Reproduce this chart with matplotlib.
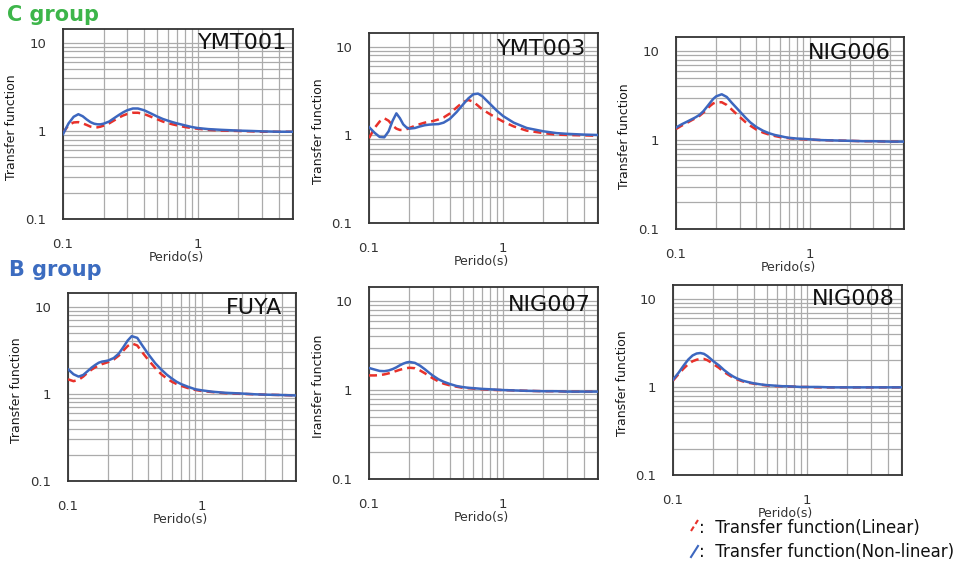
import matplotlib
matplotlib.use('Agg')
import matplotlib.pyplot as plt
from matplotlib.lines import Line2D
from matplotlib.ticker import FixedLocator, FixedFormatter, NullFormatter

W, H = 961, 565

# ---------------- data ----------------
period = [0.10, 0.11, 0.12, 0.13, 0.14, 0.15, 0.16, 0.17, 0.18, 0.19, 0.20, 0.22,
          0.24, 0.26, 0.28, 0.30, 0.33, 0.36, 0.40, 0.45, 0.50, 0.55, 0.60, 0.65,
          0.70, 0.80, 0.90, 1.0, 1.2, 1.5, 2.0, 2.5, 3.0, 4.0, 5.0]

ymt001_nonlin = [0.92, 1.22, 1.45, 1.55, 1.47, 1.35, 1.26, 1.21, 1.19, 1.19, 1.21, 1.28,
                 1.40, 1.52, 1.63, 1.72, 1.80, 1.80, 1.72, 1.58, 1.46, 1.37, 1.31, 1.26,
                 1.22, 1.16, 1.11, 1.08, 1.05, 1.03, 1.01, 1.00, 0.99, 0.98, 0.98]
ymt001_lin = [0.95, 1.17, 1.25, 1.26, 1.22, 1.17, 1.12, 1.10, 1.10, 1.12, 1.15, 1.22,
              1.32, 1.42, 1.50, 1.56, 1.61, 1.61, 1.56, 1.45, 1.36, 1.28, 1.23, 1.19,
              1.16, 1.11, 1.08, 1.06, 1.03, 1.01, 1.00, 0.99, 0.98, 0.98, 0.98]

ymt003_nonlin = [1.23, 1.06, 0.95, 0.94, 1.10, 1.45, 1.76, 1.55, 1.32, 1.22, 1.18, 1.20,
                 1.25, 1.29, 1.31, 1.32, 1.33, 1.38, 1.52, 1.82, 2.20, 2.60, 2.90, 2.95,
                 2.75, 2.25, 1.88, 1.64, 1.38, 1.20, 1.10, 1.05, 1.03, 1.01, 1.00]
ymt003_lin = [0.92, 1.20, 1.42, 1.55, 1.45, 1.28, 1.18, 1.14, 1.14, 1.16, 1.20, 1.27,
              1.33, 1.38, 1.41, 1.44, 1.50, 1.58, 1.75, 2.05, 2.35, 2.50, 2.38, 2.15,
              1.95, 1.72, 1.55, 1.42, 1.25, 1.12, 1.05, 1.01, 1.00, 0.99, 0.98]

nig006_nonlin = [1.38, 1.50, 1.60, 1.70, 1.80, 1.92, 2.10, 2.35, 2.62, 2.90, 3.10, 3.27,
                 3.05, 2.65, 2.35, 2.10, 1.80, 1.58, 1.40, 1.27, 1.19, 1.14, 1.11, 1.08,
                 1.06, 1.04, 1.03, 1.02, 1.00, 0.99, 0.98, 0.97, 0.97, 0.96, 0.96]
nig006_lin = [1.33, 1.45, 1.55, 1.66, 1.76, 1.87, 2.03, 2.22, 2.42, 2.58, 2.66, 2.66,
              2.48, 2.22, 2.00, 1.82, 1.60, 1.45, 1.31, 1.21, 1.15, 1.11, 1.08, 1.06,
              1.05, 1.03, 1.02, 1.01, 1.00, 0.99, 0.98, 0.97, 0.97, 0.96, 0.96]

fuya_nonlin = [1.92, 1.68, 1.58, 1.65, 1.82, 2.00, 2.15, 2.28, 2.35, 2.38, 2.42, 2.58,
               2.90, 3.45, 4.10, 4.60, 4.40, 3.60, 2.85, 2.25, 1.90, 1.66, 1.50, 1.38,
               1.30, 1.20, 1.13, 1.10, 1.06, 1.03, 1.01, 0.99, 0.98, 0.97, 0.96]
fuya_lin = [1.47, 1.40, 1.45, 1.58, 1.75, 1.90, 2.02, 2.12, 2.20, 2.26, 2.32, 2.48,
            2.75, 3.15, 3.55, 3.80, 3.60, 3.00, 2.45, 1.98, 1.68, 1.50, 1.38, 1.30,
            1.24, 1.16, 1.11, 1.08, 1.05, 1.02, 1.00, 0.99, 0.98, 0.97, 0.96]

nig007_nonlin = [1.77, 1.70, 1.64, 1.63, 1.66, 1.72, 1.80, 1.90, 1.98, 2.04, 2.07, 2.02,
                 1.88, 1.72, 1.57, 1.45, 1.32, 1.24, 1.17, 1.11, 1.08, 1.06, 1.05, 1.04,
                 1.03, 1.02, 1.01, 1.00, 0.99, 0.98, 0.97, 0.97, 0.96, 0.96, 0.96]
nig007_lin = [1.46, 1.46, 1.47, 1.50, 1.54, 1.59, 1.64, 1.69, 1.73, 1.76, 1.78, 1.76,
              1.66, 1.55, 1.44, 1.35, 1.25, 1.18, 1.13, 1.09, 1.06, 1.05, 1.04, 1.03,
              1.02, 1.01, 1.00, 1.00, 0.99, 0.98, 0.97, 0.97, 0.96, 0.96, 0.96]

nig008_nonlin = [1.21, 1.45, 1.75, 2.05, 2.28, 2.40, 2.43, 2.38, 2.25, 2.10, 1.96, 1.76,
                 1.56, 1.42, 1.32, 1.25, 1.18, 1.14, 1.10, 1.07, 1.05, 1.04, 1.03, 1.02,
                 1.02, 1.01, 1.00, 1.00, 1.00, 0.99, 0.99, 0.99, 0.99, 0.99, 0.99]
nig008_lin = [1.18, 1.40, 1.62, 1.82, 1.96, 2.04, 2.08, 2.08, 2.02, 1.92, 1.82, 1.65,
              1.48, 1.37, 1.28, 1.22, 1.16, 1.12, 1.09, 1.06, 1.04, 1.03, 1.02, 1.02,
              1.01, 1.01, 1.00, 1.00, 0.99, 0.99, 0.99, 0.99, 0.99, 0.99, 0.99]

station_names = ['YMT001', 'YMT003', 'NIG006', 'FUYA', 'NIG007', 'NIG008']
y_labels = ['Transfer function', 'Transfer function', 'Transfer function',
            'Transfer function', 'Iransfer function', 'Transfer function']
x_label = 'Perido(s)'
x_major = [0.1, 1]
x_major_labels = ['0.1', '1']
y_major = [0.1, 1, 10]
y_major_labels = ['0.1', '1', '10']
group_labels = ['C group', 'B group']
legend_labels = [':  Transfer function(Linear)', ':  Transfer function(Non-linear)']

# ---------------- style ----------------
RED = '#e8312a'
BLUE = '#3d67bf'
GREEN = '#3db54a'
GROUP_BLUE = '#3c6cc0'
GRID = '#ababab'
FRAME = '#333333'

fig = plt.figure(figsize=(W / 100, H / 100), dpi=100)
fig.patch.set_facecolor('white')

# (left, right, top, bottom) in pixels, name offsets (dx, dy)
boxes = [(63, 293, 29, 219), (369, 598, 33, 223), (676, 904, 37, 229),
         (68, 296, 293, 481), (369, 598, 287, 479), (673, 902, 285, 475)]
name_offsets = [(6, 14), (12, 16), (13, 16), (14, 15), (7, 18), (7, 14)]

series = [(ymt001_lin, ymt001_nonlin), (ymt003_lin, ymt003_nonlin),
          (nig006_lin, nig006_nonlin), (fuya_lin, fuya_nonlin),
          (nig007_lin, nig007_nonlin), (nig008_lin, nig008_nonlin)]

x_minor = [0.2, 0.3, 0.4, 0.5, 0.6, 0.7, 0.8, 0.9, 2, 3, 4, 5]
y_minor = [0.2, 0.3, 0.4, 0.5, 0.6, 0.7, 0.8, 0.9, 2, 3, 4, 5, 6, 7, 8, 9]

for i, (box, (lin, nonlin)) in enumerate(zip(boxes, series)):
    l, r, t, b = box
    ax = fig.add_axes([l / W, 1 - b / H, (r - l) / W, (b - t) / H])
    ax.set_xscale('log')
    ax.set_yscale('log')
    ax.plot(period, lin, color=RED, lw=1.8, ls=(0, (3.2, 2.0)), zorder=3)
    ax.plot(period, nonlin, color=BLUE, lw=1.8, zorder=4)
    ax.set_xlim(0.1, 5.1)
    ax.set_ylim(0.1, 14.4)

    ax.xaxis.set_major_locator(FixedLocator(x_major))
    ax.xaxis.set_major_formatter(FixedFormatter(x_major_labels))
    ax.xaxis.set_minor_locator(FixedLocator(x_minor))
    ax.xaxis.set_minor_formatter(NullFormatter())
    ax.yaxis.set_major_locator(FixedLocator(y_major))
    ax.yaxis.set_major_formatter(FixedFormatter(y_major_labels))
    ax.yaxis.set_minor_locator(FixedLocator(y_minor))
    ax.yaxis.set_minor_formatter(NullFormatter())

    ax.grid(which='both', color=GRID, lw=0.9)
    ax.set_axisbelow(True)
    ax.tick_params(which='both', length=0, labelsize=9.5, labelcolor='#333333')
    ax.tick_params(axis='y', pad=12)
    ax.tick_params(axis='x', pad=14)
    for s in ax.spines.values():
        s.set_color(FRAME)
        s.set_linewidth(1.3)

    dx, dy = name_offsets[i]
    ax.annotate(station_names[i], xy=(1, 1), xycoords='axes fraction',
                xytext=(-dx, -dy), textcoords='offset pixels',
                ha='right', va='center', fontsize=16, color='#111111', zorder=6)
    ax.annotate(y_labels[i], xy=(0, 0.5), xycoords='axes fraction',
                xytext=(-51, -3), textcoords='offset pixels', rotation=90,
                ha='center', va='center', fontsize=9, color='#1a1a1a')
    ax.annotate(x_label, xy=(0.5, 0), xycoords='axes fraction',
                xytext=(-2, -38), textcoords='offset pixels',
                ha='center', va='center', fontsize=9, color='#333333')

fig.text(7 / W, 1 - 15 / H, group_labels[0], color=GREEN, fontsize=15,
         fontweight='bold', va='center', ha='left')
fig.text(9 / W, 1 - 270 / H, group_labels[1], color=GROUP_BLUE, fontsize=15,
         fontweight='bold', va='center', ha='left')

# legend
fig.add_artist(Line2D([691 / W, 698 / W], [1 - 531 / H, 1 - 520 / H],
                      color=RED, lw=1.5, ls=(0, (2.5, 1.5))))
fig.add_artist(Line2D([691 / W, 698 / W], [1 - 557 / H, 1 - 546 / H],
                      color=BLUE, lw=1.5))
fig.text(699 / W, 1 - 528 / H, legend_labels[0], fontsize=12, va='center',
         ha='left', color='#111111')
fig.text(699 / W, 1 - 552 / H, legend_labels[1], fontsize=12, va='center',
         ha='left', color='#111111')

fig.savefig('out.png', dpi=100, facecolor='white')
